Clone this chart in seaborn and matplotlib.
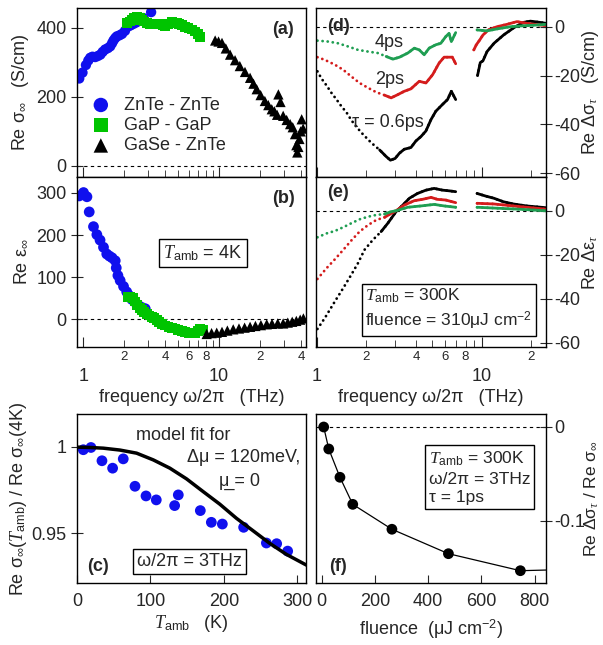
import numpy as np
import pandas as pd
import matplotlib
matplotlib.use("Agg")
import matplotlib.pyplot as plt
import seaborn as sns

# ---- panel (a): Re sigma_inf at 4K ----
a_zn_f = [0.935, 0.988, 1.047, 1.09, 1.126, 1.17, 1.225, 1.28, 1.337, 1.39, 1.45, 1.52, 1.58, 1.63,
          1.67, 1.72, 1.77, 1.85, 1.93, 2.03, 2.15, 2.24, 2.34, 2.45, 2.55, 2.66, 2.77, 3.16]
a_zn_v = [253, 270, 292, 305, 313, 316, 315, 318, 322, 330, 337, 341, 346, 355,
          363, 370, 375, 378, 382, 391, 404, 407, 411, 415, 419, 424, 428, 445]
a_gap_f = [2.1, 2.2, 2.28, 2.38, 2.48, 2.6, 2.70, 2.82, 2.94, 3.1, 3.29, 3.48, 3.68, 3.85,
           3.99, 4.2, 4.49, 4.7, 4.88, 5.1, 5.31, 5.6, 5.95, 6.3, 6.66, 6.95, 7.25]
a_gap_v = [414, 418, 423, 427, 430, 427, 423, 418, 414, 411, 409, 410, 411, 407,
           404, 410, 416, 415, 414, 411, 407, 403, 399, 395, 389, 382, 372]
a_gase_f = [9.35, 9.9, 10.5, 11.2, 12.05, 13.1, 14.2, 15.5, 16.9, 17.9, 18.9, 20.2, 21.7, 23.0,
            24.4, 25.5, 26.7, 27.3, 28.3, 29.6, 31.4, 33.3, 34.8, 36.2, 37.0, 37.6, 38.3, 39.0,
            39.8, 40.5, 41.5]
a_gase_v = [363, 360, 356, 340, 322, 306, 289, 272, 255, 238, 222, 205, 188, 176,
            164, 158, 148, 207, 185, 145, 133, 121, 112, 92, 60, 39, 55, 78,
            100, 135, 108]

# ---- panel (b): Re eps_inf at 4K ----
b_zn_f = [0.935, 1.005, 1.065, 1.107, 1.19, 1.26, 1.33, 1.41, 1.49, 1.56, 1.63, 1.72, 1.75, 1.80,
          1.87, 1.98, 2.09, 2.18, 2.28, 2.42, 2.55, 2.7, 2.86]
b_zn_v = [293, 301, 291, 255, 220, 201, 188, 171, 155, 150, 146, 139, 122, 104,
          92, 78, 65, 56, 47, 40, 33, 28, 25]
b_gap_f = [2.13, 2.23, 2.34, 2.41, 2.48, 2.6, 2.70, 2.82, 2.94, 3.07, 3.2, 3.34, 3.48, 3.63,
           3.79, 4.0, 4.24, 4.5, 4.75, 5.0, 5.31, 5.6, 5.95, 6.3, 6.66, 7.0, 7.25, 7.67]
b_gap_v = [53, 52, 51, 42, 33, 27, 21, 17, 13, 9, 5, 2, -2, -7,
           -12, -15, -18, -20, -22, -25, -28, -31, -34, -34, -32, -27, -22, -26]
b_gase_f = [8.1, 8.8, 9.6, 10.5, 11.5, 12.7, 14.0, 15.4, 16.9, 18.5, 20.3, 22.4, 24.5, 27.0,
            29.6, 32.0, 34.5, 37.0, 39.5, 41.7]
b_gase_v = [-35, -33, -32, -30, -27, -24, -22, -20, -18, -16, -14, -12, -11, -10,
            -10, -8, -6, -4, -1, 2]

# ---- panel (c): temperature dependence at 3 THz ----
c_T = [8.6, 19, 34, 48.5, 63, 79, 94, 108, 133, 138, 168, 183, 198, 227, 258, 272, 287]
c_v = [0.9983, 0.9996, 0.9919, 0.9876, 0.993, 0.9771, 0.9715, 0.9692, 0.9659, 0.9721,
       0.963, 0.9562, 0.9552, 0.9533, 0.9442, 0.9438, 0.9395]
c_fit_T = [0, 17.7, 35.8, 58.5, 81.2, 103.9, 126.5, 149.2, 171.9, 194.6, 217.3, 239.9, 262.6, 285.3, 312.5]
c_fit_v = [0.9998, 0.9996, 0.9992, 0.9981, 0.9963, 0.9924, 0.9876, 0.9814, 0.974, 0.9667,
           0.9585, 0.9513, 0.944, 0.9376, 0.9314]

# ---- panel (d): Re delta sigma, pump-probe delays ----
d_f1_black = [1.01, 1.07, 1.15, 1.23, 1.32, 1.41, 1.52, 1.62, 1.74, 1.91, 2.14, 2.41, 2.64, 2.80,
              2.99, 3.18, 3.40, 3.73, 4.0, 4.29, 4.60, 4.94, 5.28, 5.80, 6.22, 6.56, 6.97]
d_v1_black = [-18.2, -21.2, -24.1, -27.1, -29.8, -32.5, -35.2, -38.2, -41, -44.1, -47.5, -50.5, -53.2, -54.7,
              -54, -51.8, -50.2, -49.5, -46.8, -45, -42.7, -38, -34.6, -31.8, -29.8, -26.4, -29.8]
d_f2_black = [9.46, 9.83, 10.2, 10.8, 11.9, 13.6, 15.7, 18.0, 19.8, 22.6, 24.6]
d_v2_black = [-19.9, -14.6, -13.9, -10.1, -6.7, -3.3, -0.3, 1.9, 2.4, 1.9, 1.5]
d_f1_red = [1.01, 1.12, 1.29, 1.45, 1.62, 1.82, 2.05, 2.30, 2.58, 2.83, 3.10, 3.40, 3.73, 4.19,
            4.60, 5.05, 5.53, 5.93, 6.65, 6.97]
d_v1_red = [-12.4, -13.5, -15.5, -17.6, -20.3, -23, -25, -26.8, -28, -29.1, -27.8, -26.4, -25.4, -22.3,
            -23, -19.6, -14.8, -12.4, -12.4, -15.1]
d_f2_red = [8.98, 9.3, 9.76, 10.2, 11.0, 12.4, 14.3, 16.4, 18.8, 22.6, 24.6]
d_v2_red = [-9.4, -7.3, -5.3, -3.3, -1.2, 0.1, 1.1, 2.2, 1.5, 0.8, 0.6]
d_f1_green = [1.01, 1.18, 1.35, 1.55, 1.78, 2.05, 2.35, 2.64, 2.90, 3.18, 3.57, 3.91, 4.19, 4.49,
              4.81, 5.28, 5.66, 6.06, 6.35, 6.56, 6.97]
d_v1_green = [-5.6, -6, -6.7, -8, -9.4, -10.1, -10.7, -12.1, -13.2, -12.4, -10.7, -8.7, -9.4, -11.4,
              -8.7, -7.3, -6.7, -4, -2.6, -6, -2.3]
d_f2_green = [9.4, 10.8, 12.4, 14.9, 18.0, 21.6, 24.6]
d_v2_green = [-1.2, -1.6, -0.8, 0.1, 0.5, 0.8, 1.1]

# ---- panel (e): Re delta eps ----
e_f1_black = [1.01, 1.12, 1.29, 1.45, 1.62, 1.78, 1.95, 2.19, 2.46, 2.70, 3.03, 3.33, 3.65, 4.09,
              4.60, 5.16, 5.80, 6.35, 6.97]
e_v1_black = [-53.8, -48.8, -41.2, -35.1, -29.1, -23.8, -17.7, -13.2, -9.4, -5.6, -0.3, 2.7, 5.8, 8,
              9.5, 10.3, 9.5, 9.2, 8.8]
e_f2_black = [9.4, 10.6, 11.9, 13.6, 15.6, 18.8, 24.6]
e_v2_black = [8, 6.8, 5.8, 4.2, 3.2, 2.3, 1.5]
e_f1_red = [1.01, 1.15, 1.29, 1.45, 1.62, 1.82, 2.05, 2.30, 2.58, 2.83, 3.03, 3.40, 3.91, 4.38,
            4.94, 5.40, 6.06, 6.97]
e_v1_red = [-31, -26, -22, -17.7, -13.5, -9.4, -6.4, -4.1, -2.9, -1.1, 0.1, 2.7, 4.7, 5.3,
            6.2, 5.3, 5, 3.8]
e_f2_red = [9.4, 11.9, 15.6, 24.6]
e_v2_red = [3.5, 3.2, 2.3, 0.8]
e_f1_green = [1.01, 1.15, 1.29, 1.45, 1.62, 1.82, 2.05, 2.30, 2.58, 2.83, 3.03, 3.57, 4.29, 5.16,
              5.93, 6.97]
e_v1_green = [-12, -10.2, -9.1, -7.4, -5.6, -3.8, -2.6, -1.8, -1.4, -0.3, 0.1, 1.7, 2.3, 3,
              2.3, 1.7]
e_f2_green = [9.4, 13, 17, 24.6]
e_v2_green = [1.7, 1.2, 0.8, 0.1]

# ---- panel (f): fluence dependence ----
f_fluence = [8, 27, 69, 117, 264, 476, 746]
f_ratio = [0.0, -0.0234, -0.0535, -0.0823, -0.1088, -0.1348, -0.1529]
f_fit_x = [8, 27, 69, 117, 264, 476, 746, 842]
f_fit_y = [0.0, -0.0234, -0.0535, -0.0823, -0.1088, -0.1348, -0.1529, -0.1522]

BLUE = "#1010ee"
LGREEN = "#00c400"
DGREEN = "#1f9e52"
RED = "#d41c1c"
FS = 13

sns.set_style("ticks")
plt.rcParams['font.family'] = ['Liberation Sans', 'DejaVu Sans']
plt.rcParams['mathtext.fontset'] = 'custom'
plt.rcParams['mathtext.rm'] = 'Liberation Sans'
plt.rcParams['mathtext.sf'] = 'Liberation Sans'
plt.rcParams['mathtext.it'] = 'Liberation Serif:italic'
plt.rcParams['mathtext.fallback'] = 'stix'
plt.rcParams['axes.unicode_minus'] = False
plt.rcParams['axes.linewidth'] = 1.0
plt.rcParams['axes.edgecolor'] = 'black'
plt.rcParams['font.size'] = FS

TAMB = r"$\mathit{T}_{\mathrm{amb}}$"

fig = plt.figure(figsize=(6.03, 6.45), dpi=100)
ax_a = fig.add_axes([0.1277, 0.7256, 0.3798, 0.2620])
ax_b = fig.add_axes([0.1277, 0.4620, 0.3798, 0.2636])
ax_c = fig.add_axes([0.1277, 0.0961, 0.3798, 0.2620])
ax_d = fig.add_axes([0.5240, 0.7256, 0.3814, 0.2620])
ax_e = fig.add_axes([0.5240, 0.4620, 0.3814, 0.2636])
ax_f = fig.add_axes([0.5240, 0.0961, 0.3814, 0.2620])


def zero_line(ax):
    ax.axhline(0, color='black', lw=0.8, ls=(0, (3, 3)), zorder=0)


def freq_axis(ax, minor_vals, minor_labels, labels=True):
    ax.set_xscale('log')
    ax.set_xticks([1, 10])
    ax.set_xticks(minor_vals, minor=True)
    if labels:
        ax.set_xticklabels(['1', '10'])
        ax.set_xticklabels(minor_labels, minor=True)
    else:
        ax.set_xticklabels([])
        ax.set_xticklabels([], minor=True)
    ax.tick_params(axis='x', which='major', direction='in', length=7, pad=15, labelsize=FS)
    ax.tick_params(axis='x', which='minor', direction='in', length=5, pad=3, labelsize=9.5)


def panel_label(ax, txt, x, y):
    ax.text(x, y, txt, transform=ax.transAxes, ha='center', va='center',
            fontsize=FS, fontweight='bold')


box = dict(boxstyle='square,pad=0.22', fc='white', ec='black', lw=1)

# ---- (a) ----
ab_minor = [2, 3, 4, 5, 6, 7, 8, 9, 20, 30, 40]
ab_minor_lab = ['2', '', '4', '', '6', '', '8', '', '2', '', '4']
zero_line(ax_a)
sns.scatterplot(data=pd.DataFrame({'f': a_zn_f, 'v': a_zn_v}), x='f', y='v', ax=ax_a,
                color=BLUE, marker='o', s=55, edgecolor='none', label='ZnTe - ZnTe')
sns.scatterplot(data=pd.DataFrame({'f': a_gap_f, 'v': a_gap_v}), x='f', y='v', ax=ax_a,
                color=LGREEN, marker='s', s=50, edgecolor='none', label='GaP - GaP')
sns.scatterplot(data=pd.DataFrame({'f': a_gase_f, 'v': a_gase_v}), x='f', y='v', ax=ax_a,
                color='black', marker='^', s=55, edgecolor='none', label='GaSe - ZnTe')
freq_axis(ax_a, ab_minor, ab_minor_lab, labels=False)
ax_a.set_xlim(0.9, 43.6)
ax_a.set_ylim(-32, 457)
ax_a.set_yticks([0, 200, 400])
ax_a.tick_params(axis='y', direction='inout', length=8, labelsize=FS)
ax_a.set_xlabel('')
ax_a.set_ylabel(r"Re σ$_\infty$   (S/cm)", fontsize=FS, labelpad=4)
ax_a.legend(loc='lower left', bbox_to_anchor=(-0.03, 0.06), frameon=False, fontsize=FS,
            handletextpad=0.3, labelspacing=0.18, borderpad=0.2, markerscale=1.4)
panel_label(ax_a, '(a)', 0.90, 0.87)

# ---- (b) ----
zero_line(ax_b)
sns.scatterplot(data=pd.DataFrame({'f': b_zn_f, 'v': b_zn_v}), x='f', y='v', ax=ax_b,
                color=BLUE, marker='o', s=60, edgecolor='none')
sns.scatterplot(data=pd.DataFrame({'f': b_gap_f, 'v': b_gap_v}), x='f', y='v', ax=ax_b,
                color=LGREEN, marker='s', s=50, edgecolor='none')
sns.scatterplot(data=pd.DataFrame({'f': b_gase_f, 'v': b_gase_v}), x='f', y='v', ax=ax_b,
                color='black', marker='^', s=55, edgecolor='none')
freq_axis(ax_b, ab_minor, ab_minor_lab)
ax_b.set_xlim(0.9, 43.6)
ax_b.set_ylim(-66, 338)
ax_b.set_yticks([0, 100, 200, 300])
ax_b.tick_params(axis='y', direction='inout', length=8, labelsize=FS)
ax_b.set_xlabel("frequency ω/2π   (THz)", fontsize=FS, labelpad=3)
ax_b.set_ylabel(r"Re ε$_\infty$", fontsize=FS, labelpad=4)
ax_b.text(0.55, 0.553, TAMB + " = 4K", transform=ax_b.transAxes, ha='center', va='center',
          fontsize=FS, bbox=box)
panel_label(ax_b, '(b)', 0.90, 0.876)

# ---- (c) ----
sns.lineplot(x=c_fit_T, y=c_fit_v, ax=ax_c, color='black', lw=2.5)
sns.scatterplot(x=c_T, y=c_v, ax=ax_c, color=BLUE, s=60, edgecolor='none')
ax_c.set_xlim(0, 312)
ax_c.set_ylim(0.921, 1.019)
ax_c.set_xticks([0, 100, 200, 300])
ax_c.set_yticks([0.95, 1.0])
ax_c.set_yticklabels(['0.95', '1'])
ax_c.tick_params(axis='x', direction='in', length=6, pad=7, labelsize=FS)
ax_c.tick_params(axis='y', direction='inout', length=8, labelsize=FS)
ax_c.set_xlabel(TAMB + "   (K)", fontsize=FS, labelpad=2)
ax_c.set_ylabel(r"Re σ$_\infty$(" + TAMB + r") / Re σ$_\infty$(4K)", fontsize=FS, labelpad=2)
ax_c.text(0.463, 0.87, "model fit for", transform=ax_c.transAxes, ha='center', va='center', fontsize=FS)
ax_c.text(0.974, 0.74, "Δμ = 120meV,", transform=ax_c.transAxes, ha='right', va='center', fontsize=FS)
ax_c.text(0.71, 0.604, "μ\u0332 = 0", transform=ax_c.transAxes, ha='center', va='center', fontsize=FS)
ax_c.text(0.491, 0.127, "ω/2π = 3THz", transform=ax_c.transAxes, ha='center', va='center',
          fontsize=FS, bbox=box)
panel_label(ax_c, '(c)', 0.092, 0.10)


# ---- (d), (e) ----
def pump_curve(ax, f, v, color):
    df = pd.DataFrame({'f': f, 'v': v})
    sns.lineplot(data=df, x='f', y='v', ax=ax, color=color, lw=2.0,
                 linestyle=(0, (0.05, 1.8)), dash_capstyle='round', sort=False)
    dense = df[df['f'] >= 2.4]
    sns.lineplot(data=dense, x='f', y='v', ax=ax, color=color, lw=2.0, sort=False)


de_minor = [2, 3, 4, 5, 6, 7, 8, 9, 20]
de_minor_lab = ['2', '', '4', '', '6', '', '8', '', '2']

zero_line(ax_d)
pump_curve(ax_d, d_f1_black, d_v1_black, 'black')
pump_curve(ax_d, d_f2_black, d_v2_black, 'black')
pump_curve(ax_d, d_f1_red, d_v1_red, RED)
pump_curve(ax_d, d_f2_red, d_v2_red, RED)
pump_curve(ax_d, d_f1_green, d_v1_green, DGREEN)
pump_curve(ax_d, d_f2_green, d_v2_green, DGREEN)

zero_line(ax_e)
pump_curve(ax_e, e_f1_black, e_v1_black, 'black')
pump_curve(ax_e, e_f2_black, e_v2_black, 'black')
pump_curve(ax_e, e_f1_red, e_v1_red, RED)
pump_curve(ax_e, e_f2_red, e_v2_red, RED)
pump_curve(ax_e, e_f1_green, e_v1_green, DGREEN)
pump_curve(ax_e, e_f2_green, e_v2_green, DGREEN)

for ax, lab in [(ax_d, False), (ax_e, True)]:
    freq_axis(ax, de_minor, de_minor_lab, labels=lab)
    ax.set_xlim(0.99, 24.6)
    ax.set_yticks([0, -20, -40, -60])
    ax.yaxis.tick_right()
    ax.yaxis.set_label_position('right')
    ax.tick_params(axis='y', direction='inout', length=8, labelsize=FS, pad=2)

ax_d.set_ylim(-61.6, 7.8)
ax_e.set_ylim(-62, 15.5)
ax_d.set_xlabel('')
ax_d.set_ylabel(r"Re Δσ$_\tau$   (S/cm)", fontsize=FS, labelpad=0)
ax_e.set_ylabel(r"Re Δε$_\tau$", fontsize=FS, labelpad=0)
ax_e.set_xlabel("frequency ω/2π   (THz)", fontsize=FS, labelpad=3)
ax_d.text(0.32, 0.793, "4ps", transform=ax_d.transAxes, ha='center', va='center', fontsize=FS)
ax_d.text(0.32, 0.574, "2ps", transform=ax_d.transAxes, ha='center', va='center', fontsize=FS)
ax_d.text(0.313, 0.325, "τ = 0.6ps", transform=ax_d.transAxes, ha='center', va='center', fontsize=FS)
ax_e.text(0.215, 0.224, TAMB + " = 300K\nfluence = 310μJ cm$^{-2}$", transform=ax_e.transAxes,
          ha='left', va='center', fontsize=12.5, linespacing=1.3, bbox=box)
panel_label(ax_d, '(d)', 0.096, 0.888)
panel_label(ax_e, '(e)', 0.096, 0.906)

# ---- (f) ----
ax_f.axhline(0, color='black', lw=0.8, ls=(0, (3, 3)), zorder=0)
sns.lineplot(x=f_fit_x, y=f_fit_y, ax=ax_f, color='black', lw=0.9)
sns.scatterplot(x=f_fluence, y=f_ratio, ax=ax_f, color='black', s=60, edgecolor='none', zorder=3)
ax_f.set_xlim(-21, 842)
ax_f.set_ylim(-0.166, 0.0138)
ax_f.set_xticks([0, 200, 400, 600, 800])
ax_f.set_yticks([0, -0.1])
ax_f.set_yticklabels(['0', '-0.1'])
ax_f.yaxis.tick_right()
ax_f.yaxis.set_label_position('right')
ax_f.tick_params(axis='x', direction='in', length=6, pad=7, labelsize=FS)
ax_f.tick_params(axis='y', direction='inout', length=8, labelsize=FS, pad=2)
ax_f.set_xlabel("fluence  (μJ cm$^{-2}$)", fontsize=FS, labelpad=6)
ax_f.set_ylabel(r"Re Δσ$_\tau$ / Re σ$_\infty$", fontsize=12.5, labelpad=-2)
ax_f.text(0.49, 0.624, TAMB + " = 300K\nω/2π = 3THz\nτ = 1ps", transform=ax_f.transAxes,
          ha='left', va='center', fontsize=12.5, linespacing=1.3, bbox=box)
panel_label(ax_f, '(f)', 0.096, 0.10)

fig.savefig("out.png", dpi=100)
